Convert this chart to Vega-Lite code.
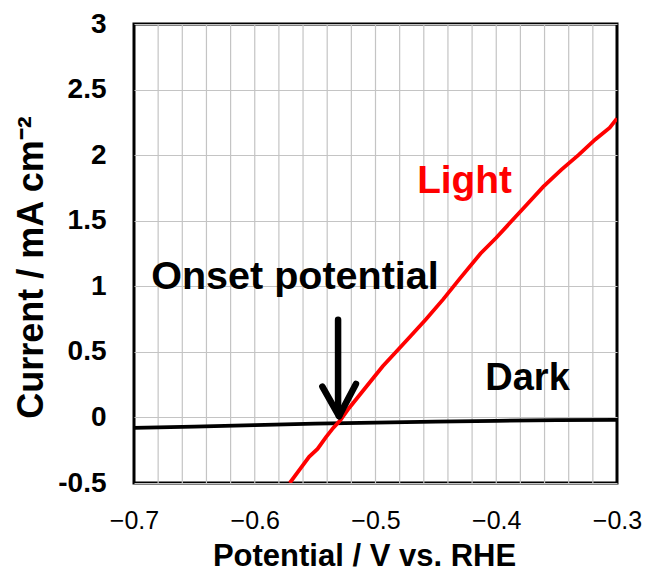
{
  "$schema": "https://vega.github.io/schema/vega-lite/v6.json",
  "width": 483,
  "height": 459,
  "autosize": {"type": "none"},
  "padding": {"left": 134, "top": 24, "right": 32, "bottom": 88},
  "background": "white",
  "config": {
    "font": "Liberation Sans",
    "view": {"stroke": "black", "strokeWidth": 3},
    "axis": {"domain": false, "ticks": false, "tickSize": 0, "gridColor": "#c4c4c4", "gridWidth": 1.2, "gridOpacity": 1, "labelColor": "black", "titleColor": "black"}
  },
  "datasets": {
    "gridx": [
      {"potential": -0.68}, {"potential": -0.66}, {"potential": -0.64}, {"potential": -0.62},
      {"potential": -0.60}, {"potential": -0.58}, {"potential": -0.56}, {"potential": -0.54},
      {"potential": -0.52}, {"potential": -0.50}, {"potential": -0.48}, {"potential": -0.46},
      {"potential": -0.44}, {"potential": -0.42}, {"potential": -0.40}, {"potential": -0.38},
      {"potential": -0.36}, {"potential": -0.34}, {"potential": -0.32}
    ],
    "curves": [
      {"series": "Dark", "potential": -0.700, "current": -0.080},
      {"series": "Dark", "potential": -0.650, "current": -0.070},
      {"series": "Dark", "potential": -0.600, "current": -0.058},
      {"series": "Dark", "potential": -0.550, "current": -0.048},
      {"series": "Dark", "potential": -0.500, "current": -0.040},
      {"series": "Dark", "potential": -0.450, "current": -0.032},
      {"series": "Dark", "potential": -0.400, "current": -0.026},
      {"series": "Dark", "potential": -0.350, "current": -0.021},
      {"series": "Dark", "potential": -0.300, "current": -0.018},
      {"series": "Light", "potential": -0.571, "current": -0.50},
      {"series": "Light", "potential": -0.563, "current": -0.40},
      {"series": "Light", "potential": -0.555, "current": -0.30},
      {"series": "Light", "potential": -0.548, "current": -0.24},
      {"series": "Light", "potential": -0.541, "current": -0.15},
      {"series": "Light", "potential": -0.535, "current": -0.08},
      {"series": "Light", "potential": -0.529, "current": -0.02},
      {"series": "Light", "potential": -0.522, "current": 0.07},
      {"series": "Light", "potential": -0.515, "current": 0.15},
      {"series": "Light", "potential": -0.508, "current": 0.23},
      {"series": "Light", "potential": -0.501, "current": 0.31},
      {"series": "Light", "potential": -0.494, "current": 0.39},
      {"series": "Light", "potential": -0.485, "current": 0.48},
      {"series": "Light", "potential": -0.472, "current": 0.61},
      {"series": "Light", "potential": -0.458, "current": 0.75},
      {"series": "Light", "potential": -0.444, "current": 0.90},
      {"series": "Light", "potential": -0.430, "current": 1.06},
      {"series": "Light", "potential": -0.413, "current": 1.25},
      {"series": "Light", "potential": -0.400, "current": 1.37},
      {"series": "Light", "potential": -0.389, "current": 1.48},
      {"series": "Light", "potential": -0.375, "current": 1.62},
      {"series": "Light", "potential": -0.361, "current": 1.76},
      {"series": "Light", "potential": -0.346, "current": 1.89},
      {"series": "Light", "potential": -0.332, "current": 2.00},
      {"series": "Light", "potential": -0.318, "current": 2.12},
      {"series": "Light", "potential": -0.306, "current": 2.21},
      {"series": "Light", "potential": -0.300, "current": 2.28}
    ],
    "arrow": [
      {"part": "shaft", "x": -0.5310, "y": 0.745, "x2": -0.5310, "y2": 0.06},
      {"part": "left", "x": -0.5440, "y": 0.235, "x2": -0.5302, "y2": 0.010},
      {"part": "right", "x": -0.5162, "y": 0.255, "x2": -0.5302, "y2": 0.010}
    ],
    "labels": [
      {"text": "Onset potential", "potential": -0.5667, "current": 0.98, "color": "Dark"},
      {"text": "Light", "potential": -0.4263, "current": 1.71, "color": "Light"},
      {"text": "Dark", "potential": -0.3741, "current": 0.21, "color": "Dark"}
    ]
  },
  "layer": [
    {
      "data": {"name": "gridx"},
      "mark": {"type": "rule", "color": "#c4c4c4", "strokeWidth": 1.2},
      "encoding": {
        "x": {"field": "potential", "type": "quantitative"}
      }
    },
    {
      "data": {"name": "curves"},
      "mark": {"type": "line", "strokeWidth": 3.8, "clip": true},
      "encoding": {
        "x": {
          "field": "potential", "type": "quantitative",
          "scale": {"domain": [-0.7, -0.3], "nice": false, "zero": false},
          "axis": {
            "title": "Potential / V vs. RHE",
            "values": [-0.7, -0.6, -0.5, -0.4, -0.3],
            "format": ".1f",
            "grid": false,
            "labelFontSize": 25,
            "labelFontWeight": "normal",
            "labelPadding": 25,
            "labelFlush": false,
            "labelOverlap": false,
            "labelBound": false,
            "titleFontSize": 31,
            "titleFontWeight": "bold",
            "titleBaseline": "alphabetic",
            "titleX": 230,
            "titleY": 82
          }
        },
        "y": {
          "field": "current", "type": "quantitative",
          "scale": {"domain": [-0.5, 3], "nice": false, "zero": false},
          "axis": {
            "title": "Current / mA cm⁻²",
            "values": [-0.5, 0, 0.5, 1, 1.5, 2, 2.5, 3],
            "format": ".1~f",
            "labelExpr": "replace(datum.label, '\u2212', '-')",
            "labelFontSize": 28,
            "labelFontWeight": "bold",
            "labelPadding": 28,
            "labelOverlap": false,
            "labelBound": false,
            "labelFlush": false,
            "titleFontSize": 36,
            "titleFontWeight": "bold",
            "titleBaseline": "alphabetic",
            "titleAngle": -90,
            "titleX": -92,
            "titleY": 243
          }
        },
        "color": {
          "field": "series", "type": "nominal",
          "scale": {"domain": ["Light", "Dark"], "range": ["#ff0000", "#000000"]},
          "legend": null
        },
        "detail": {"field": "series"}
      }
    },
    {
      "data": {"name": "arrow"},
      "mark": {"type": "rule", "strokeWidth": 6.5, "color": "black", "strokeCap": "round"},
      "encoding": {
        "x": {"field": "x", "type": "quantitative"},
        "y": {"field": "y", "type": "quantitative"},
        "x2": {"field": "x2"},
        "y2": {"field": "y2"}
      }
    },
    {
      "data": {"name": "labels"},
      "mark": {"type": "text", "font": "Liberation Sans", "fontWeight": "bold", "align": "center", "baseline": "alphabetic"},
      "encoding": {
        "x": {"field": "potential", "type": "quantitative"},
        "y": {"field": "current", "type": "quantitative"},
        "text": {"field": "text"},
        "size": {
          "field": "text", "type": "nominal",
          "scale": {"domain": ["Onset potential", "Light", "Dark"], "range": [39.5, 38, 38]},
          "legend": null
        },
        "color": {
          "field": "color", "type": "nominal",
          "scale": {"domain": ["Light", "Dark"], "range": ["#ff0000", "#000000"]},
          "legend": null
        }
      }
    }
  ]
}
